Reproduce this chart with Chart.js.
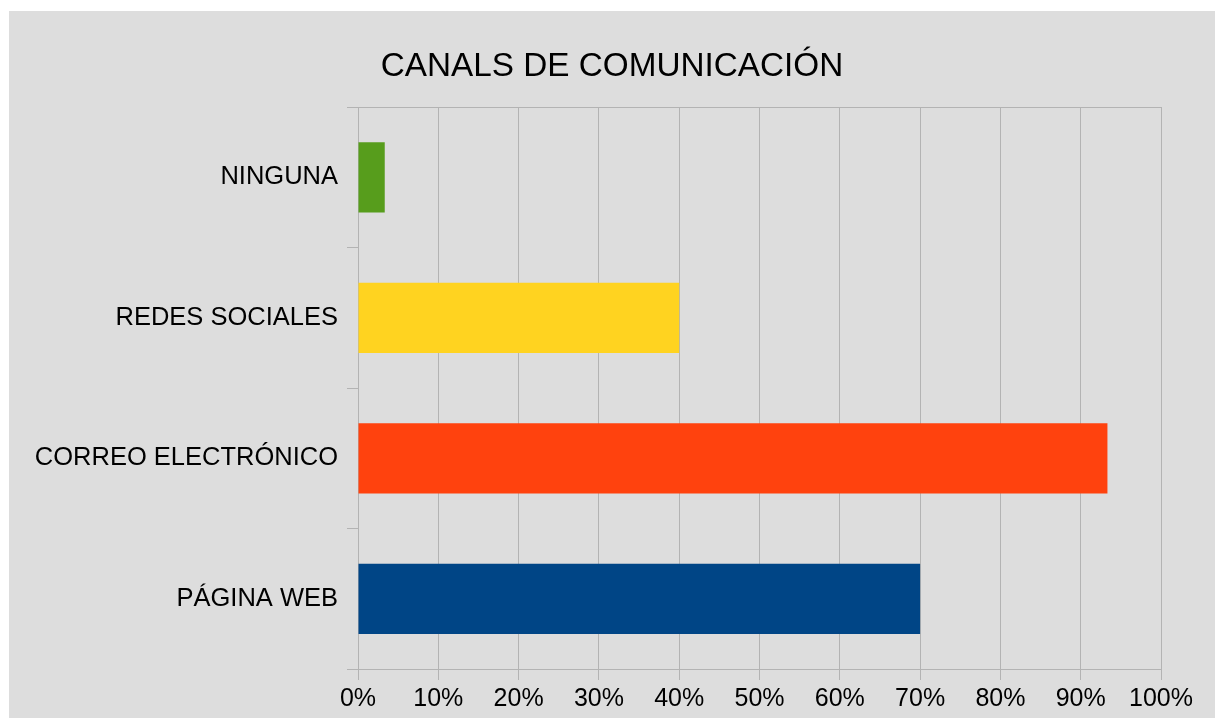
<!DOCTYPE html>
<html>
<head>
<meta charset="utf-8">
<script src="https://cdn.jsdelivr.net/npm/chart.js@4"></script>
<style>
html,body{margin:0;padding:0;background:#ffffff;}
#wrap{width:1215px;height:718px;position:relative;}
</style>
</head>
<body>
<div id="wrap"><canvas id="c" width="1215" height="718"></canvas></div>
<script>
const categories = ["NINGUNA", "REDES SOCIALES", "CORREO ELECTRÓNICO", "PÁGINA WEB"];
const values = [3.33, 40, 93.33, 70];
const tickValues = [0, 10, 20, 30, 40, 50, 60, 70, 80, 90, 100];
const chartTitle = "CANALS DE COMUNICACIÓN";
const barColors = ["#579d1c", "#ffd320", "#ff420e", "#004586"];

const GRID = "#b3b3b3";
const FONT = "'Liberation Sans', Arial, sans-serif";

const bgPlugin = {
  id: 'bg',
  beforeDraw(chart) {
    const ctx = chart.ctx;
    ctx.save();
    ctx.fillStyle = "#dddddd";
    ctx.fillRect(9, 11, chart.width - 9, chart.height - 11);
    ctx.restore();
  },
  afterDraw(chart) {
    const ctx = chart.ctx, a = chart.chartArea;
    ctx.save();
    ctx.strokeStyle = GRID;
    ctx.lineWidth = 1;
    ctx.beginPath();
    ctx.moveTo(a.left, Math.round(a.top) + 0.5);
    ctx.lineTo(a.right, Math.round(a.top) + 0.5);
    ctx.stroke();
    // title
    ctx.fillStyle = '#000000';
    ctx.font = "normal 33.3px " + FONT;
    ctx.textAlign = 'center';
    ctx.textBaseline = 'alphabetic';
    ctx.fillText(chartTitle, (9 + chart.width) / 2, 76);
    ctx.restore();
  }
};

new Chart(document.getElementById('c'), {
  type: 'bar',
  data: {
    labels: categories,
    datasets: [{
      data: values,
      backgroundColor: barColors,
      borderWidth: 0,
      categoryPercentage: 1.0,
      barPercentage: 0.5
    }]
  },
  options: {
    indexAxis: 'y',
    responsive: false,
    animation: false,
    devicePixelRatio: 1,
    layout: { padding: { top: 107, right: 54, bottom: 0, left: 0 } },
    plugins: {
      legend: { display: false },
      tooltip: { enabled: false },
      title: { display: false }
    },
    scales: {
      x: {
        min: 0, max: 100,
        afterBuildTicks(scale) { scale.ticks = tickValues.map(v => ({ value: v })); },
        afterFit(scale) { scale.height = 49; },
        ticks: {
          color: '#000000',
          font: { family: FONT, size: 25 },
          padding: 4,
          maxRotation: 0,
          autoSkip: false,
          callback: v => v + '%'
        },
        grid: { color: GRID, lineWidth: 1, tickLength: 11, drawTicks: true },
        border: { display: true, color: GRID }
      },
      y: {
        afterFit(scale) { scale.width = 358; },
        ticks: {
          color: '#000000',
          font: { family: FONT, size: 25.5 },
          padding: 9
        },
        grid: { color: GRID, lineWidth: 1, tickLength: 11, drawOnChartArea: false, drawTicks: true, offset: true },
        border: { display: true, color: GRID }
      }
    }
  },
  plugins: [bgPlugin]
});
</script>
</body>
</html>
